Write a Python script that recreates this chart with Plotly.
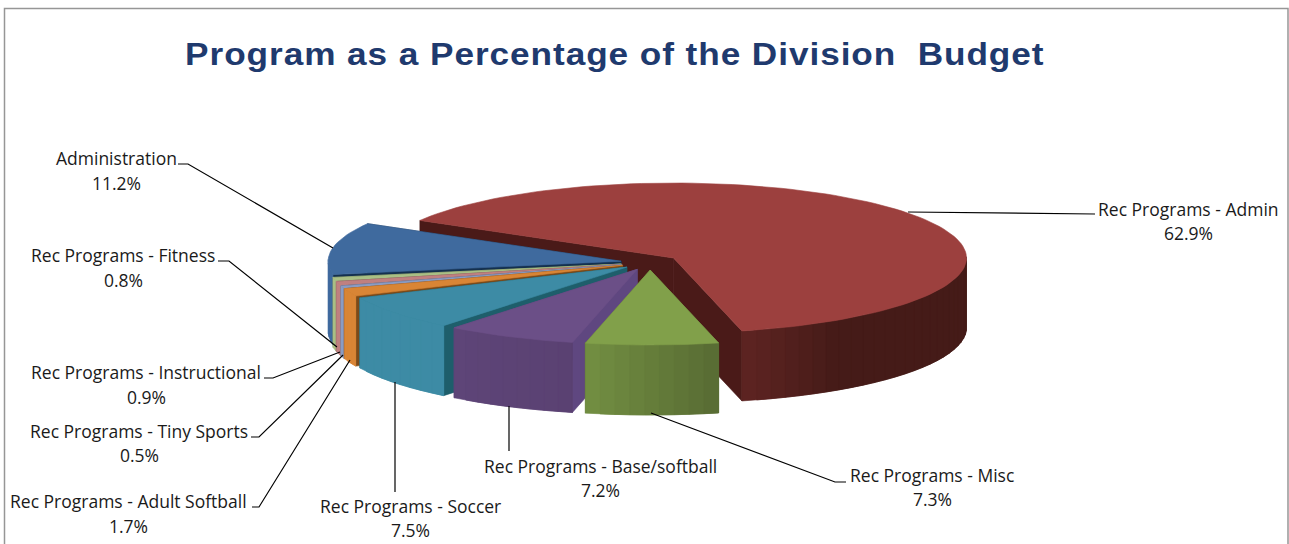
import math
import plotly.graph_objects as go

# Slice data, listed counter-clockwise starting from the largest wedge
names = ["Rec Programs - Admin", "Administration", "Rec Programs - Fitness",
         "Rec Programs - Instructional", "Rec Programs - Tiny Sports",
         "Rec Programs - Adult Softball", "Rec Programs - Soccer",
         "Rec Programs - Base/softball", "Rec Programs - Misc"]
values = [62.9, 11.2, 0.8, 0.9, 0.5, 1.7, 7.5, 7.2, 7.3]
title_text = "Program as a Percentage of the Division  Budget"

# Face colours per slice
top_colors = ["#9C403E", "#3F6A9E", "#A9BF85", "#C08080", "#8A9CC4", "#D98535",
              "#3D8BA5", "#6B4F87", "#81A04A"]
wall_from = ["#5E2422", "#3F6A9E", "#A9BF85", "#C08080", "#8A9CC4", "#D98535",
             "#3D8BA5", "#5E4578", "#728F42"]
wall_to = ["#451B18", "#3F6A9E", "#A9BF85", "#C08080", "#8A9CC4", "#D98535",
           "#3D8BA5", "#5A4172", "#586B33"]
wall_ramp = [0.09, 1, 1, 1, 1, 1, 1, 1, 1]
cut_colors = ["#4A1A18", "#14304F", "#66754E", "#6E4B4B", "#4F5A75", "#7A4A1A",
              "#1E5E6B", "#5F4780", "#5F7536"]

# Pie geometry on the pixel-sized data axes
CX, CY = 650, 262.5
RX, RY = 293, 75
DEPTH = 70
EXPLODE = 0.10
START = -76.5

# Leader lines and label anchors
leaders = [
    [(908, 212), (1095, 214)],
    [(178, 164), (188, 164), (333, 248)],
    [(218, 261), (229, 261), (337, 347)],
    [(264, 378), (273, 378), (340, 352)],
    [(251, 437), (259, 437), (343, 355)],
    [(252, 507), (259, 507), (350, 360)],
    [(395, 382), (395, 492)],
    [(509, 406), (509, 451)],
    [(651, 413), (835, 482), (846, 482)],
]
label_pos = [(1188, 209, 233), (116, 158, 183), (123, 255, 280), (146, 372, 397),
             (139, 431, 455), (128, 501, 526), (410, 506, 530), (600, 466, 490),
             (932, 475, 499)]


def hex_rgb(h):
    return tuple(int(h[i:i + 2], 16) for i in (1, 3, 5))


def mix(c0, c1, f):
    a, b = hex_rgb(c0), hex_rgb(c1)
    return "rgb(%d,%d,%d)" % tuple(round(a[i] + (b[i] - a[i]) * f) for i in range(3))


def poly(fig, pts, color):
    xs = [p[0] for p in pts] + [pts[0][0]]
    ys = [p[1] for p in pts] + [pts[0][1]]
    fig.add_trace(go.Scatter(x=xs, y=ys, mode="lines", fill="toself", fillcolor=color,
                             line=dict(color=color, width=0.6), hoverinfo="skip",
                             showlegend=False))


fig = go.Figure()
total = sum(values)
angle = START
for i, v in enumerate(values):
    sweep = v / total * 360
    t0, t1 = angle, angle + sweep
    angle = t1
    mid = math.radians((t0 + t1) / 2)
    ax = CX + EXPLODE * RX * math.cos(mid)
    ay = CY - EXPLODE * RY * math.sin(mid)

    def rim(t, drop=0):
        r = math.radians(t)
        return ax + RX * math.cos(r), ay - RY * math.sin(r) + drop

    # cut faces first, so that the top and outer wall cover the hidden ones
    for t in (t0, t1):
        poly(fig, [(ax, ay), rim(t), rim(t, DEPTH), (ax, ay + DEPTH)], cut_colors[i])

    # outer wall, shaded in vertical bands; each band runs under the next one
    n = max(1, math.ceil(sweep / 3))
    step = sweep / n
    for k in range(n):
        a = t0 + step * k
        b = a + step
        if math.sin(math.radians(a + step / 2)) >= 0:
            continue
        over = min(b + step, t1)
        if math.sin(math.radians(over)) > 0:
            over = b
        f = min(1, ((k + 0.5) / n) / wall_ramp[i])
        poly(fig, [rim(a), rim(b), rim(over), rim(over, DEPTH), rim(b, DEPTH), rim(a, DEPTH)],
             mix(wall_from[i], wall_to[i], f))

    # top face
    m = max(2, math.ceil(sweep / 2))
    poly(fig, [(ax, ay)] + [rim(t0 + sweep * k / m) for k in range(m + 1)], top_colors[i])

for pts in leaders:
    fig.add_trace(go.Scatter(x=[p[0] for p in pts], y=[p[1] for p in pts], mode="lines",
                             line=dict(color="#000000", width=1.2), hoverinfo="skip",
                             showlegend=False))

notes = [dict(x=615, y=54, text="<b>%s</b>" % title_text.replace("  ", " \u00a0"),
              showarrow=False, xanchor="center", yanchor="middle",
              font=dict(family="Liberation Sans", size=32, color="#1F3A6E"))]
for name, v, (x, y1, y2) in zip(names, values, label_pos):
    for y, text in ((y1, name), (y2, "%.1f%%" % v)):
        notes.append(dict(x=x, y=y, text=text, showarrow=False, xanchor="center",
                          yanchor="middle",
                          font=dict(family="Open Sans", size=17.5, color="#1a1a1a")))

fig.update_layout(
    width=1289, height=544, autosize=False, margin=dict(l=0, r=0, t=0, b=0, pad=0),
    paper_bgcolor="#ffffff", plot_bgcolor="#ffffff", showlegend=False,
    xaxis=dict(range=[0, 1289], visible=False, fixedrange=True),
    yaxis=dict(range=[544, 0], visible=False, fixedrange=True),
    annotations=notes,
    shapes=[dict(type="rect", x0=4.5, y0=8.5, x1=1288, y1=600, layer="below",
                 line=dict(color="#969696", width=1.5))],
)

# Plotly has no tracking or width option for text, so the title's SVG node gets them here
title_style = (
    "document.querySelectorAll('.annotation[data-index=\"0\"] text')"
    ".forEach(function (t) {"
    " t.style.letterSpacing = '0.85px';"
    " t.style.transformBox = 'fill-box';"
    " t.style.transformOrigin = 'center';"
    " t.style.transform = 'scaleX(1.1)';"
    " });"
)
fig.write_html("out.html", post_script=title_style)
